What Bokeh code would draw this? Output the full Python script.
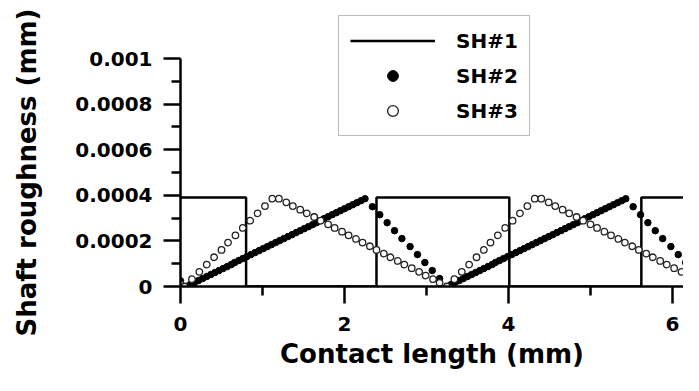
from bokeh.plotting import figure
from bokeh.models import Range1d, FixedTicker, Legend, LegendItem, Title, LinearAxis
from bokeh.embed import file_html
from bokeh.resources import INLINE

# ---------------- data ----------------
sh1_x = [0.0, 0.80, 0.80, 2.39, 2.39, 4.01, 4.01, 5.62, 5.62, 6.40]
sh1_y = [0.00039, 0.00039, 0.0, 0.0, 0.00039, 0.00039, 0.0, 0.0, 0.00039, 0.00039]

sh2_x = [0.00, 0.07, 0.12, 0.17, 0.22, 0.27, 0.32, 0.37, 0.42, 0.47, 0.52,
         0.57, 0.62, 0.66, 0.71, 0.76, 0.81, 0.86, 0.91, 0.96, 1.01, 1.06,
         1.11, 1.16, 1.21, 1.26, 1.31, 1.36, 1.41, 1.46, 1.51, 1.56, 1.61,
         1.66, 1.71, 1.75, 1.80, 1.85, 1.90, 1.95, 2.00, 2.05, 2.10, 2.15,
         2.20, 2.25,
         2.34, 2.43, 2.52, 2.61, 2.70, 2.80, 2.89, 2.98, 3.07, 3.16, 3.25,
         3.30, 3.35, 3.40, 3.45, 3.50, 3.55, 3.60, 3.65, 3.70, 3.75, 3.80,
         3.84, 3.89, 3.94, 3.99, 4.04, 4.09, 4.14, 4.19, 4.24, 4.29, 4.34,
         4.39, 4.44, 4.49, 4.54, 4.59, 4.64, 4.69, 4.74, 4.79, 4.84, 4.89,
         4.93, 4.98, 5.03, 5.08, 5.13, 5.18, 5.23, 5.28, 5.33, 5.38, 5.43,
         5.52, 5.61, 5.70, 5.79, 5.88, 5.98, 6.07, 6.16, 6.25, 6.34]
sh2_y = [0.0000250, 0.0, 0.0000088, 0.0000175, 0.0000263, 0.0000350, 0.0000438,
         0.0000525, 0.0000613, 0.0000700, 0.0000788, 0.0000875, 0.0000963,
         0.0001050, 0.0001138, 0.0001225, 0.0001313, 0.0001400, 0.0001488,
         0.0001575, 0.0001663, 0.0001750, 0.0001838, 0.0001925, 0.0002013,
         0.0002100, 0.0002188, 0.0002275, 0.0002363, 0.0002450, 0.0002538,
         0.0002625, 0.0002713, 0.0002800, 0.0002888, 0.0002975, 0.0003063,
         0.0003150, 0.0003238, 0.0003325, 0.0003413, 0.0003500, 0.0003588,
         0.0003675, 0.0003763, 0.0003850,
         0.000350, 0.000315, 0.000280, 0.000245, 0.000210, 0.000175,
         0.000140, 0.000105, 0.000070, 0.000035, 0.0,
         0.0000088, 0.0000175, 0.0000263, 0.0000350, 0.0000438, 0.0000525,
         0.0000613, 0.0000700, 0.0000788, 0.0000875, 0.0000963, 0.0001050,
         0.0001138, 0.0001225, 0.0001313, 0.0001400, 0.0001488, 0.0001575,
         0.0001663, 0.0001750, 0.0001838, 0.0001925, 0.0002013, 0.0002100,
         0.0002188, 0.0002275, 0.0002363, 0.0002450, 0.0002538, 0.0002625,
         0.0002713, 0.0002800, 0.0002888, 0.0002975, 0.0003063, 0.0003150,
         0.0003238, 0.0003325, 0.0003413, 0.0003500, 0.0003588, 0.0003675,
         0.0003763, 0.0003850,
         0.000350, 0.000315, 0.000280, 0.000245, 0.000210, 0.000175,
         0.000140, 0.000105, 0.000070, 0.000035]

sh3_x = [0.00, 0.05, 0.14, 0.23, 0.32, 0.41, 0.50, 0.58, 0.67, 0.76, 0.85,
         0.94, 1.03, 1.12, 1.20,
         1.29, 1.37, 1.46, 1.54, 1.63, 1.71, 1.80, 1.88, 1.97, 2.05, 2.14,
         2.22, 2.31, 2.39, 2.48, 2.56, 2.65, 2.73, 2.82, 2.91, 2.99, 3.08,
         3.16, 3.25,
         3.34, 3.43, 3.52, 3.61, 3.70, 3.78, 3.87, 3.96, 4.05, 4.14, 4.23,
         4.32, 4.40,
         4.49, 4.57, 4.66, 4.74, 4.83, 4.91, 5.00, 5.08, 5.17, 5.25, 5.34,
         5.42, 5.51, 5.59, 5.68, 5.76, 5.85, 5.93, 6.02, 6.11, 6.19, 6.28,
         6.36]
sh3_y = [0.0000100, 0.0, 0.0000321, 0.0000642, 0.0000963, 0.0001283,
         0.0001604, 0.0001925, 0.0002246, 0.0002567, 0.0002888, 0.0003208,
         0.0003529, 0.0003850, 0.0003850,
         0.0003690, 0.0003529, 0.0003369, 0.0003208, 0.0003048, 0.0002888,
         0.0002727, 0.0002567, 0.0002406, 0.0002246, 0.0002085, 0.0001925,
         0.0001765, 0.0001604, 0.0001444, 0.0001283, 0.0001123, 0.0000963,
         0.0000802, 0.0000642, 0.0000481, 0.0000321, 0.0000160, 0.0,
         0.0000321, 0.0000642, 0.0000963, 0.0001283, 0.0001604, 0.0001925,
         0.0002246, 0.0002567, 0.0002888, 0.0003208, 0.0003529, 0.0003850,
         0.0003850,
         0.0003690, 0.0003529, 0.0003369, 0.0003208, 0.0003048, 0.0002888,
         0.0002727, 0.0002567, 0.0002406, 0.0002246, 0.0002085, 0.0001925,
         0.0001765, 0.0001604, 0.0001444, 0.0001283, 0.0001123, 0.0000963,
         0.0000802, 0.0000642, 0.0000481, 0.0000321, 0.0000160]

x_ticks = [0, 2, 4, 6]
x_minor = [1, 3, 5]
y_ticks = [0.0, 0.0002, 0.0004, 0.0006, 0.0008, 0.001]
y_tick_labels = ["0", "0.0002", "0.0004", "0.0006", "0.0008", "0.001"]
y_minor = [0.0001, 0.0003, 0.0005, 0.0007, 0.0009]
series_names = ["SH#1", "SH#2", "SH#3"]
x_title = "Contact length (mm)"
y_title = "Shaft roughness (mm)"

# ---------------- layout ----------------
W, H = 683, 375
ML, MR, MT, MB = 180, 0, 0, 89
px_per_x = 82.0
px_per_y = 228000.0
frame_w = W - ML - MR
frame_h = H - MT - MB
x_end = frame_w / px_per_x
y_end = frame_h / px_per_y

FONT = "DejaVu Sans"

p = figure(width=W, height=H, output_backend="svg", toolbar_location=None,
           x_range=Range1d(0, x_end), y_range=Range1d(0, y_end),
           min_border_left=ML, min_border_right=MR,
           min_border_top=MT, min_border_bottom=MB)
p.outline_line_color = None
p.xgrid.visible = False
p.ygrid.visible = False
p.background_fill_color = "white"
p.border_fill_color = "white"

for ax in (p.xaxis[0], p.yaxis[0]):
    ax.axis_line_width = 2.5
    ax.axis_line_color = "black"
    ax.major_tick_line_width = 2.5
    ax.minor_tick_line_width = 2.5
    ax.major_tick_line_color = "black"
    ax.minor_tick_line_color = "black"
    ax.major_tick_in = 0
    ax.minor_tick_in = 0
    ax.major_tick_out = 17
    ax.minor_tick_out = 9
    ax.major_label_text_font = FONT
    ax.major_label_text_font_style = "bold"
    ax.major_label_text_font_size = "20px"
    ax.major_label_text_color = "black"
    ax.axis_label_text_font = FONT
    ax.axis_label_text_font_style = "bold"
    ax.axis_label_text_font_size = "26px"
    ax.axis_label_text_color = "black"

p.xaxis[0].ticker = FixedTicker(ticks=x_ticks, minor_ticks=x_minor)
p.xaxis[0].major_label_standoff = 13
p.xaxis[0].axis_label = x_title
p.xaxis[0].axis_label_standoff = 5
p.yaxis[0].ticker = FixedTicker(ticks=y_ticks, minor_ticks=y_minor)
p.yaxis[0].bounds = (0, 0.001)
p.yaxis[0].major_label_standoff = 11
p.yaxis[0].major_label_overrides = {t: s for t, s in zip(y_ticks, y_tick_labels)}

# blank gap between the tick labels and the y title (white tick, no label)
gap_axis = LinearAxis(ticker=FixedTicker(ticks=[0.0012], minor_ticks=[]),
                      axis_line_color=None, major_tick_line_color="white",
                      major_tick_line_width=1,
                      minor_tick_line_color=None, major_tick_out=29,
                      major_tick_in=0, minor_tick_out=0, minor_tick_in=0,
                      major_label_standoff=0,
                      major_label_overrides={0.0012: ""})
p.add_layout(gap_axis, "left")

# y title placed in the left panel, outside the tick labels
p.add_layout(Title(text=y_title, align="left", offset=frame_h - 336,
                   vertical_align="top", standoff=0,
                   text_font=FONT, text_font_style="bold",
                   text_font_size="26px", text_color="black"), "left")

r1 = p.line(sh1_x, sh1_y, line_color="black", line_width=2.5)
r2 = p.scatter(sh2_x, sh2_y, marker="circle", size=6.5,
               fill_color="black", line_color="black", line_width=1)
r3 = p.scatter(sh3_x, sh3_y, marker="circle", size=6.5,
               fill_color="white", line_color="#222222", line_width=1.3)

legend = Legend(items=[LegendItem(label=series_names[0], renderers=[r1]),
                       LegendItem(label=series_names[1], renderers=[r2]),
                       LegendItem(label=series_names[2], renderers=[r3])],
                location=(338 - ML, frame_h - 136),
                margin=0, padding=11, spacing=8,
                glyph_width=85, glyph_height=27, label_height=20,
                label_standoff=21,
                label_text_font=FONT, label_text_font_style="bold",
                label_text_font_size="20px", label_text_color="black",
                border_line_color="#777777", border_line_width=1.5,
                background_fill_color="white", background_fill_alpha=1.0)
p.add_layout(legend)

open("out.html", "w").write(file_html(p, INLINE))
